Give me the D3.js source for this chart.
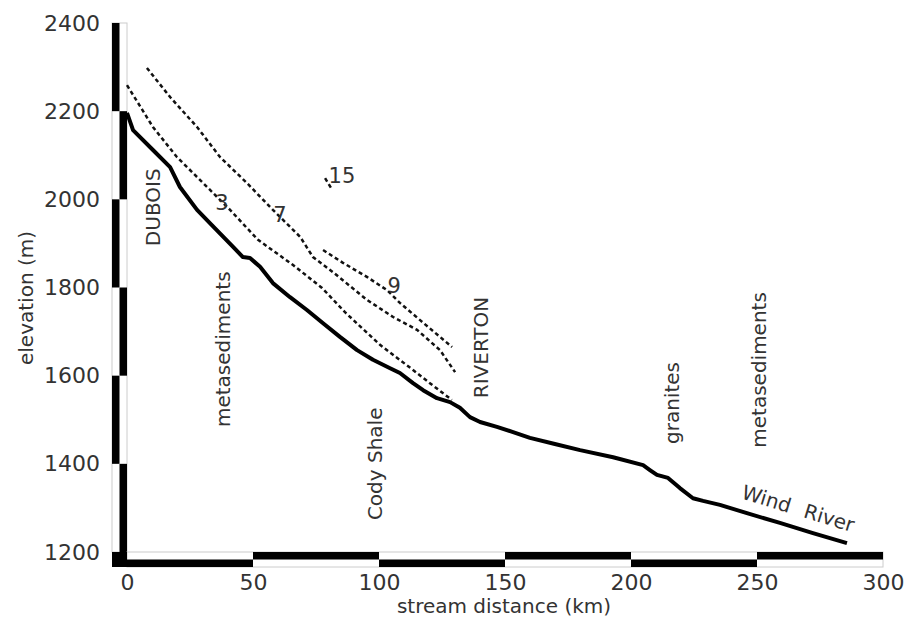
<!DOCTYPE html>
<html>
<head>
<meta charset="utf-8">
<script src="https://cdn.jsdelivr.net/npm/d3@7"></script>
<style>
  body { margin: 0; background: #fff; }
  text { font-family: "DejaVu Sans", sans-serif; fill: #333; }
</style>
</head>
<body>
<script>
// river long profile, [km, elevation m]
var river = [[0,2196],[2.4,2157],[10.3,2112],[17.1,2073],[21,2028],[27.8,1976],[32.9,1946],
  [42.1,1892],[46,1869],[48.8,1867],[52.8,1847],[57.9,1810],[64.7,1778],[71.4,1749],[77.8,1719],
  [84.5,1688],[91.3,1658],[97.6,1636],[104.4,1617],[108.3,1606],[113.5,1583],[117.5,1567],
  [123,1549],[128.2,1540],[132.1,1527],[136.1,1506],[140.1,1495],[146.8,1484],[153.2,1472],
  [159.9,1459],[169.8,1445],[179.8,1431],[192.9,1415],[204.8,1397],[207.5,1386],[210.3,1375],
  [214.7,1368],[219.4,1345],[224.6,1322],[228.6,1316],[235.3,1307],[246,1288],[259.1,1266],
  [272.2,1243],[285.7,1220]];

// terrace profiles (dotted)
var terrace3 = [[0,2259],[10.3,2164],[19.8,2096],[30.2,2037],[40.9,1976],[52,1908],[65.9,1851],
  [77.4,1799],[86.5,1744],[100.4,1670],[113.5,1613],[120.2,1583],[128.9,1545]];
var terrace7 = [[7.9,2298],[17.1,2232],[27.8,2164],[36.9,2096],[47.6,2037],[57.9,1976],[68.7,1915],
  [73.8,1869],[81.7,1835],[95.2,1772],[105.6,1733],[115.1,1704],[124.2,1658],[130.2,1608]];
var terrace9 = [[77.8,1885],[85.7,1856],[95.2,1824],[103.2,1794],[108.3,1765],[116.3,1726],
  [124.2,1688],[129,1665]];
var terrace15 = [[78.6,2048],[81.3,2023]];

var xTicks = [0, 50, 100, 150, 200, 250, 300];
var yTicks = [1200, 1400, 1600, 1800, 2000, 2200, 2400];

// rotated place / rock labels [text, km, elev]
var rotLabels = [["DUBOIS",13,1982],["metasediments",41,1660],["Cody Shale",101,1400],
  ["RIVERTON",143.3,1664],["granites",219,1538],["metasediments",253.5,1613]];
var numLabels = [["3",37.7,1976],["7",60.7,1949],["15",85.3,2037],["9",106,1787]];

var W = 918, H = 621;
var svg = d3.select("body").append("svg").attr("width", W).attr("height", H);

var x = d3.scaleLinear().domain([0, 300]).range([127, 883]);
var y = d3.scaleLinear().domain([1200, 2400]).range([552, 23]);

var bw = 15; // scale bar width

// vertical scale bar
svg.append("rect").attr("x", x(0)-bw).attr("y", y(2400)).attr("width", bw)
  .attr("height", y(1200)-y(2400)).attr("fill", "none").attr("stroke", "#ccc");
for (var i = 0; i < yTicks.length-1; i++) {
  var lo = yTicks[i], hi = yTicks[i+1];
  var right = (i % 2 == 0);
  svg.append("rect")
    .attr("x", right ? x(0)-bw/2 : x(0)-bw)
    .attr("y", y(hi)).attr("width", bw/2).attr("height", y(lo)-y(hi))
    .attr("fill", "#000");
}
// horizontal scale bar
svg.append("rect").attr("x", x(0)).attr("y", y(1200)).attr("width", x(300)-x(0))
  .attr("height", bw).attr("fill", "none").attr("stroke", "#ccc");
for (var i = 0; i < xTicks.length-1; i++) {
  var lower = (i % 2 == 0);
  svg.append("rect")
    .attr("x", x(xTicks[i])).attr("y", lower ? y(1200)+bw/2 : y(1200))
    .attr("width", x(xTicks[i+1])-x(xTicks[i])).attr("height", bw/2)
    .attr("fill", "#000");
}
svg.append("rect").attr("x", x(0)-bw).attr("y", y(1200)).attr("width", bw).attr("height", bw).attr("fill", "#000");

// tick labels
var ya = svg.append("g").attr("transform", "translate(" + (x(0)-bw) + ",0)")
  .call(d3.axisLeft(y).tickValues(yTicks).tickFormat(d3.format("d")).tickSize(0).tickPadding(12));
ya.select(".domain").remove();
ya.selectAll("text").style("font-size", "22px").attr("fill", "#333");

var xa = svg.append("g").attr("transform", "translate(0," + (y(1200)+bw) + ")")
  .call(d3.axisBottom(x).tickValues(xTicks).tickFormat(d3.format("d")).tickSize(0).tickPadding(7));
xa.select(".domain").remove();
xa.selectAll("text").style("font-size", "22px").attr("fill", "#333");

svg.append("text").attr("transform", "translate(33,298) rotate(-90)")
  .attr("text-anchor", "middle").style("font-size", "20px").text("elevation (m)");
svg.append("text").attr("x", 504).attr("y", 613)
  .attr("text-anchor", "middle").style("font-size", "20px").text("stream distance (km)");

var line = d3.line().x(d => x(d[0])).y(d => y(d[1]));

[terrace3, terrace7, terrace9, terrace15].forEach(function(t) {
  svg.append("path").datum(t).attr("d", line)
    .attr("fill", "none").attr("stroke", "#111").attr("stroke-width", 2.5)
    .attr("stroke-dasharray", "4,3");
});

svg.append("path").datum(river).attr("d", line)
  .attr("fill", "none").attr("stroke", "#000").attr("stroke-width", 4)
  .attr("stroke-linejoin", "round");

rotLabels.forEach(function(l) {
  svg.append("text")
    .attr("transform", "translate(" + x(l[1]) + "," + y(l[2]) + ") rotate(-90)")
    .attr("text-anchor", "middle").style("font-size", "20px").text(l[0]);
});
numLabels.forEach(function(l) {
  svg.append("text").attr("x", x(l[1])).attr("y", y(l[2]))
    .attr("text-anchor", "middle").style("font-size", "21px").text(l[0]);
});

svg.append("text")
  .attr("transform", "translate(" + x(243.5) + "," + y(1322) + ") rotate(17)")
  .style("font-size", "20px").style("word-spacing", "8px").text("Wind River");
</script>
</body>
</html>
